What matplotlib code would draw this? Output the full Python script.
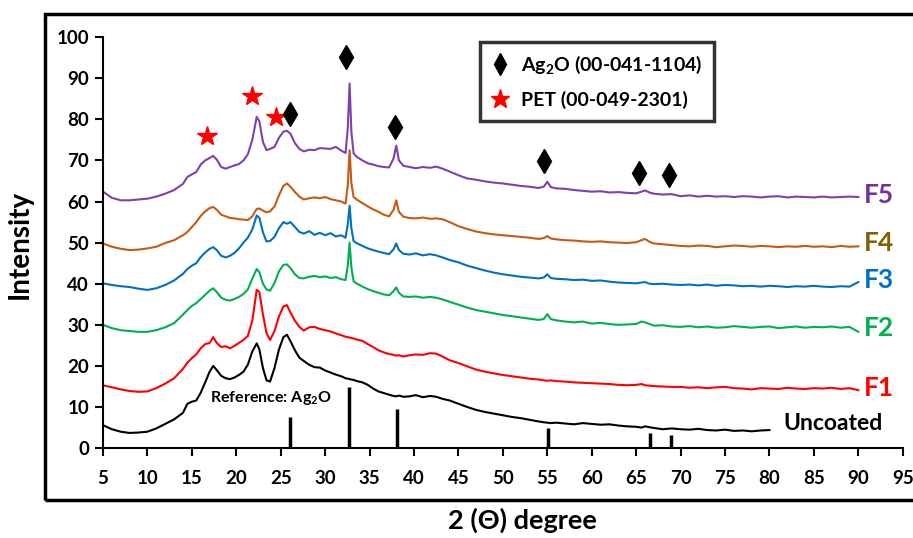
import matplotlib
matplotlib.use("Agg")
import matplotlib.pyplot as plt
from matplotlib.lines import Line2D
from matplotlib.patches import Rectangle

plt.rcParams['font.family'] = ['Lato', 'DejaVu Sans']
plt.rcParams['font.weight'] = 'bold'
plt.rcParams['mathtext.fontset'] = 'custom'
plt.rcParams['mathtext.rm'] = 'Lato:bold'
plt.rcParams['mathtext.bf'] = 'Lato:bold'

# 2-theta grid shared by all patterns
two_theta = [5, 6, 7, 8, 9, 10, 11, 12, 13, 14,
             14.5, 15, 15.5, 16, 16.5, 17, 17.4, 17.8,
             18.3, 18.8, 19.3, 19.8, 20.3, 20.8, 21.3, 21.8,
             22.3, 22.6, 23.0, 23.4, 23.8, 24.3, 24.8, 25.3,
             25.7, 26.1, 26.6, 27.1, 27.6, 28.2, 28.8, 29.4,
             30, 30.6, 31.2, 31.8, 32.3, 32.55, 32.75, 32.95,
             33.2, 33.6, 34.2, 34.8, 35.4, 36, 36.6, 37.2,
             37.7, 38.0, 38.3, 38.8, 39.5, 40.2, 41, 41.8,
             42.5, 43.2, 44, 45, 46, 47, 48, 49,
             50, 51, 52, 53, 54, 54.6, 55, 55.4,
             56, 57, 58, 59, 60, 61, 62, 63,
             64, 65, 65.6, 66, 66.5, 67, 68, 69,
             70, 71, 72, 73, 74, 75, 76, 77,
             78, 79, 80, 81, 82, 83, 84, 85,
             86, 87, 88, 89, 90]

uncoated = [5.6, 4.6, 4.0, 3.7, 3.8, 4.0, 4.8, 5.9, 7.0, 8.6,
            10.8, 11.3, 11.6, 13.5, 16.0, 18.6, 20.0, 19.0,
            17.6, 17.0, 16.8, 17.2, 17.8, 18.6, 20.3, 23.5,
            25.5, 24.0, 19.5, 16.5, 16.2, 19.5, 24.0, 27.0,
            27.6, 26.0, 23.8, 22.0, 21.2, 20.3, 19.7, 19.6,
            18.9, 18.4, 17.9, 17.5, 17.0, 16.9, 16.8, 16.7,
            16.6, 16.3, 16.0, 15.4, 14.5, 13.8, 13.4, 13.0,
            12.7, 12.6, 12.8, 12.5, 12.6, 12.9, 12.4, 12.7,
            12.5, 12.0, 11.6, 10.8, 10.0, 9.3, 8.8, 8.4,
            8.0, 7.6, 7.3, 6.9, 6.5, 6.3, 6.2, 6.1,
            6.2, 6.0, 5.8, 6.1, 5.9, 5.7, 5.8, 5.5,
            5.3, 5.2, 5.0, 5.3, 5.1, 4.9, 4.6, 4.8,
            4.6, 4.5, 4.7, 4.4, 4.3, 4.5, 4.2, 4.3,
            4.1, 4.3, 4.4]

f1 = [15.3, 14.8, 14.3, 13.9, 13.7, 13.8, 14.6, 15.7, 17.0, 19.3,
      20.8, 21.9, 22.8, 24.3, 25.3, 25.6, 27.0, 25.6,
      24.6, 24.8, 24.3, 24.9, 25.6, 26.3, 27.3, 31.0,
      38.5, 38.0, 32.5, 28.0, 26.3, 28.5, 32.0, 34.5,
      34.8, 33.0, 31.0, 29.5, 28.6, 29.4, 29.5, 29.0,
      28.7, 28.4, 27.9, 27.5, 27.1, 27.0, 26.9, 26.8,
      26.7, 26.4, 26.1, 25.3, 24.6, 23.8, 23.3, 22.9,
      22.7, 22.5, 22.6, 22.3, 22.6, 22.8, 22.7, 23.1,
      23.0, 22.3, 21.4, 20.7, 19.9, 19.1, 18.6, 18.2,
      17.8, 17.5, 17.2, 16.9, 16.7, 16.5, 16.4, 16.5,
      16.3, 16.2, 16.0, 15.9, 15.8, 15.7, 15.6, 15.4,
      15.3, 15.4, 15.6, 15.3, 15.2, 15.1, 15.0, 14.9,
      14.9, 14.7, 14.8, 14.6, 14.8, 14.9, 14.6, 14.5,
      14.3, 14.6, 14.5, 14.4, 14.7, 14.5, 14.4, 14.6,
      14.5, 14.7, 14.4, 14.6, 14.1]

f2 = [30.0, 29.2, 28.7, 28.5, 28.3, 28.3, 28.7, 29.4, 30.4, 32.5,
      33.6, 34.6, 35.3, 36.3, 37.3, 38.3, 38.9, 38.0,
      36.6, 36.1, 35.9, 36.3, 36.8, 37.5, 38.6, 41.2,
      43.6, 42.8, 40.0, 38.6, 38.3, 40.2, 43.0, 44.6,
      44.7, 43.8, 42.3, 41.4, 41.3, 41.7, 41.9, 41.6,
      41.8, 41.4, 41.6, 41.1, 40.9, 44.5, 50.0, 44.0,
      40.6, 40.0, 39.3, 38.7, 38.2, 37.8, 37.4, 37.2,
      38.2, 39.1, 37.8, 36.9, 36.8, 36.9, 36.6, 36.8,
      36.6, 36.2, 35.6, 34.9, 34.2, 33.6, 33.2, 32.8,
      32.4, 32.1, 31.8, 31.5, 31.2, 31.4, 32.6, 31.4,
      31.1, 30.8, 30.6, 30.8, 30.3, 30.5, 30.2, 30.0,
      30.1, 30.2, 30.8, 30.6, 30.2, 29.8, 29.9, 29.6,
      29.5, 29.7, 29.4, 29.6, 29.3, 29.4, 29.7, 29.5,
      29.3, 29.5, 29.6, 29.2, 29.4, 29.6, 29.3, 29.5,
      29.4, 29.6, 29.3, 29.5, 28.3]

f3 = [40.1, 39.7, 39.4, 39.2, 38.8, 38.5, 38.9, 39.7, 40.8, 42.4,
      43.6, 44.4, 45.0, 46.5, 47.6, 48.5, 48.9, 48.2,
      46.8, 46.4, 46.8, 47.5, 48.6, 50.0, 51.2, 53.2,
      56.6, 56.0, 52.5, 50.3, 50.4, 51.4, 53.5, 55.0,
      54.6, 55.0, 53.8, 52.6, 52.2, 52.8, 51.9, 52.4,
      51.8, 52.3, 51.5, 51.8, 51.2, 54.5, 59.0, 53.5,
      50.4, 49.8, 49.2, 48.6, 48.2, 47.8, 47.5, 47.2,
      48.4, 49.8, 48.2, 47.3, 47.1, 47.4, 46.9, 47.2,
      46.9, 46.4, 45.8, 45.2, 44.4, 43.8, 43.2, 42.7,
      42.3, 42.0, 41.7, 41.5, 41.3, 41.5, 42.3, 41.4,
      41.2, 41.1, 40.9, 41.0, 40.7, 40.8, 40.5, 40.3,
      40.2, 40.1, 40.3, 40.4, 40.0, 39.9, 40.0, 39.8,
      39.7, 39.8, 39.6, 39.8, 39.5, 39.7, 39.6, 39.4,
      39.5, 39.3, 39.5, 39.4, 39.2, 39.4, 39.3, 39.5,
      39.3, 39.2, 39.4, 39.3, 40.4]

f4 = [49.8, 49.0, 48.5, 48.2, 48.3, 48.6, 49.0, 49.9, 50.6, 51.8,
      52.6, 53.8, 55.0, 56.5, 57.6, 58.4, 58.7, 58.0,
      56.8, 56.4, 56.0, 55.9, 55.7, 55.6, 55.5, 56.4,
      58.2, 58.3, 57.8, 57.4, 57.6, 58.8, 61.5, 63.8,
      64.4, 63.6, 62.3, 61.2, 60.5, 60.8, 61.0, 60.8,
      61.1, 60.6, 60.3, 60.0, 59.5, 64.0, 72.5, 64.5,
      61.1, 60.4, 59.6, 58.8, 58.1, 57.5, 56.8, 56.4,
      58.0, 60.3, 57.5, 56.3, 56.0, 55.9, 56.1, 55.8,
      55.9, 55.7, 55.0, 54.0, 53.3, 52.7, 52.3, 52.0,
      51.8, 51.6, 51.4, 51.2, 50.9, 51.1, 51.6, 51.0,
      50.8, 50.6, 50.5, 50.3, 50.2, 50.3, 50.1, 50.0,
      49.9, 50.1, 50.6, 50.9, 50.2, 49.8, 49.6, 49.4,
      49.2, 49.1, 49.3, 49.2, 48.9, 49.1, 49.3, 49.2,
      49.0, 49.2, 49.1, 48.9, 49.1, 49.0, 49.2, 49.0,
      49.1, 48.9, 49.2, 49.0, 49.1]

f5 = [62.4, 60.9, 60.3, 60.3, 60.5, 60.7, 61.2, 61.9, 62.8, 64.3,
      66.0, 66.6, 67.2, 69.0, 70.0, 70.6, 71.1, 70.2,
      68.4, 68.0, 68.4, 68.8, 69.1, 70.0, 71.5, 75.0,
      80.6, 79.5, 74.5, 72.5, 72.8, 73.3, 75.5, 77.0,
      77.2, 76.5, 74.2, 72.8, 72.2, 72.6, 72.5, 73.0,
      72.9, 72.8, 73.3, 72.4, 71.8, 78.0, 88.7, 77.0,
      71.7, 70.8, 70.0, 69.3, 69.0, 68.6, 68.4, 68.3,
      70.5, 73.6, 70.0, 68.7, 68.4, 68.1, 68.4, 68.2,
      68.5, 68.0, 67.3, 66.4, 65.6, 65.3, 64.9, 64.6,
      64.4, 64.1, 63.8, 63.6, 63.3, 63.6, 64.8, 63.5,
      63.2, 63.1, 62.8, 62.6, 62.4, 62.5, 62.2, 62.3,
      62.1, 62.0, 62.4, 62.7, 62.2, 61.9, 61.7, 61.8,
      61.3, 61.5, 61.2, 61.4, 61.2, 61.3, 61.1, 61.3,
      61.2, 61.0, 61.2, 61.3, 61.0, 61.2, 61.1, 61.0,
      61.2, 61.0, 61.1, 61.2, 61.1]

# Ag2O reference stick pattern
ref_pos = [26.1, 32.7, 38.1, 55.1, 66.5, 68.9]
ref_height = [7.5, 14.8, 9.5, 5.0, 3.6, 3.3]

# peak markers
pet_x = [16.7, 21.8, 24.5]
pet_y = [76.0, 85.6, 80.5]
ag_x = [26.1, 32.3, 37.9, 54.6, 65.3, 68.7]
ag_y = [81.3, 95.1, 78.1, 69.8, 66.9, 66.4]

series = [
    ("Uncoated", uncoated, "black", "black", 81.6, 6.1),
    ("F1", f1, "#FF0000", "#FF0000", 90.6, 14.6),
    ("F2", f2, "#00B050", "#00B050", 90.6, 29.2),
    ("F3", f3, "#0070C0", "#0070C0", 90.6, 40.9),
    ("F4", f4, "#C55A11", "#806000", 90.6, 49.8),
    ("F5", f5, "#7F3FB0", "#7030A0", 90.6, 61.5),
]

fig = plt.figure(figsize=(9.13, 5.38), dpi=100)
ax = fig.add_axes([0.1128, 0.167, 0.876, 0.764])

for name, vals, color, lab_color, lx, ly in series:
    ax.plot(two_theta[:len(vals)], vals, color=color, lw=1.5)
    fs = 16.5 if name == "Uncoated" else 19
    ax.text(lx, ly, name, color=lab_color, fontsize=fs, fontweight='bold',
            ha='left', va='center')

ax.vlines(ref_pos, 0, ref_height, color='black', lw=2.5)
ax.text(17.0, 12.2, r"Reference: Ag$_\mathbf{2}$O", fontsize=11.5,
        fontweight='bold', ha='left', va='center')

ax.plot(pet_x, pet_y, linestyle='none', marker='*', color='red', markersize=15)
ax.plot(ag_x, ag_y, linestyle='none', marker='d', color='black', markersize=12.5)

handles = [
    Line2D([], [], linestyle='none', marker='d', color='black', markersize=11),
    Line2D([], [], linestyle='none', marker='*', color='red', markersize=14),
]
leg = ax.legend(handles, [r"Ag$_\mathbf{2}$O (00-041-1104)", "PET (00-049-2301)"],
                loc='upper left', bbox_to_anchor=(0.471, 0.988), borderaxespad=0,
                fontsize=14, frameon=True, fancybox=False, labelspacing=0.75,
                borderpad=0.6, handlelength=0.9, handletextpad=0.6)
leg.get_frame().set_edgecolor('black')
leg.get_frame().set_linewidth(2.5)

ax.set_xlim(5, 95)
ax.set_ylim(0, 100)
ax.set_xticks(range(5, 96, 5))
ax.set_yticks(range(0, 101, 10))
ax.spines['top'].set_visible(False)
ax.spines['right'].set_visible(False)
for s in ['left', 'bottom']:
    ax.spines[s].set_linewidth(1.5)
ax.tick_params(direction='out', length=6, width=1.5, labelsize=13.5, pad=4)
ax.tick_params(axis='x', pad=10)
for lab in ax.get_xticklabels() + ax.get_yticklabels():
    lab.set_fontweight('bold')

fig.text(0.022, 0.546, "Intensity", rotation=90, fontsize=20, fontweight='bold',
         ha='center', va='center')
fig.text(0.572, 0.032, "2 (Θ) degree", fontsize=19.5, fontweight='bold',
         ha='center', va='center')

fig.patches.append(Rectangle((0.049, 0.070), 0.96, 0.904, transform=fig.transFigure,
                             fill=False, lw=2.5, ec='black'))

fig.savefig("out.png", dpi=100)
